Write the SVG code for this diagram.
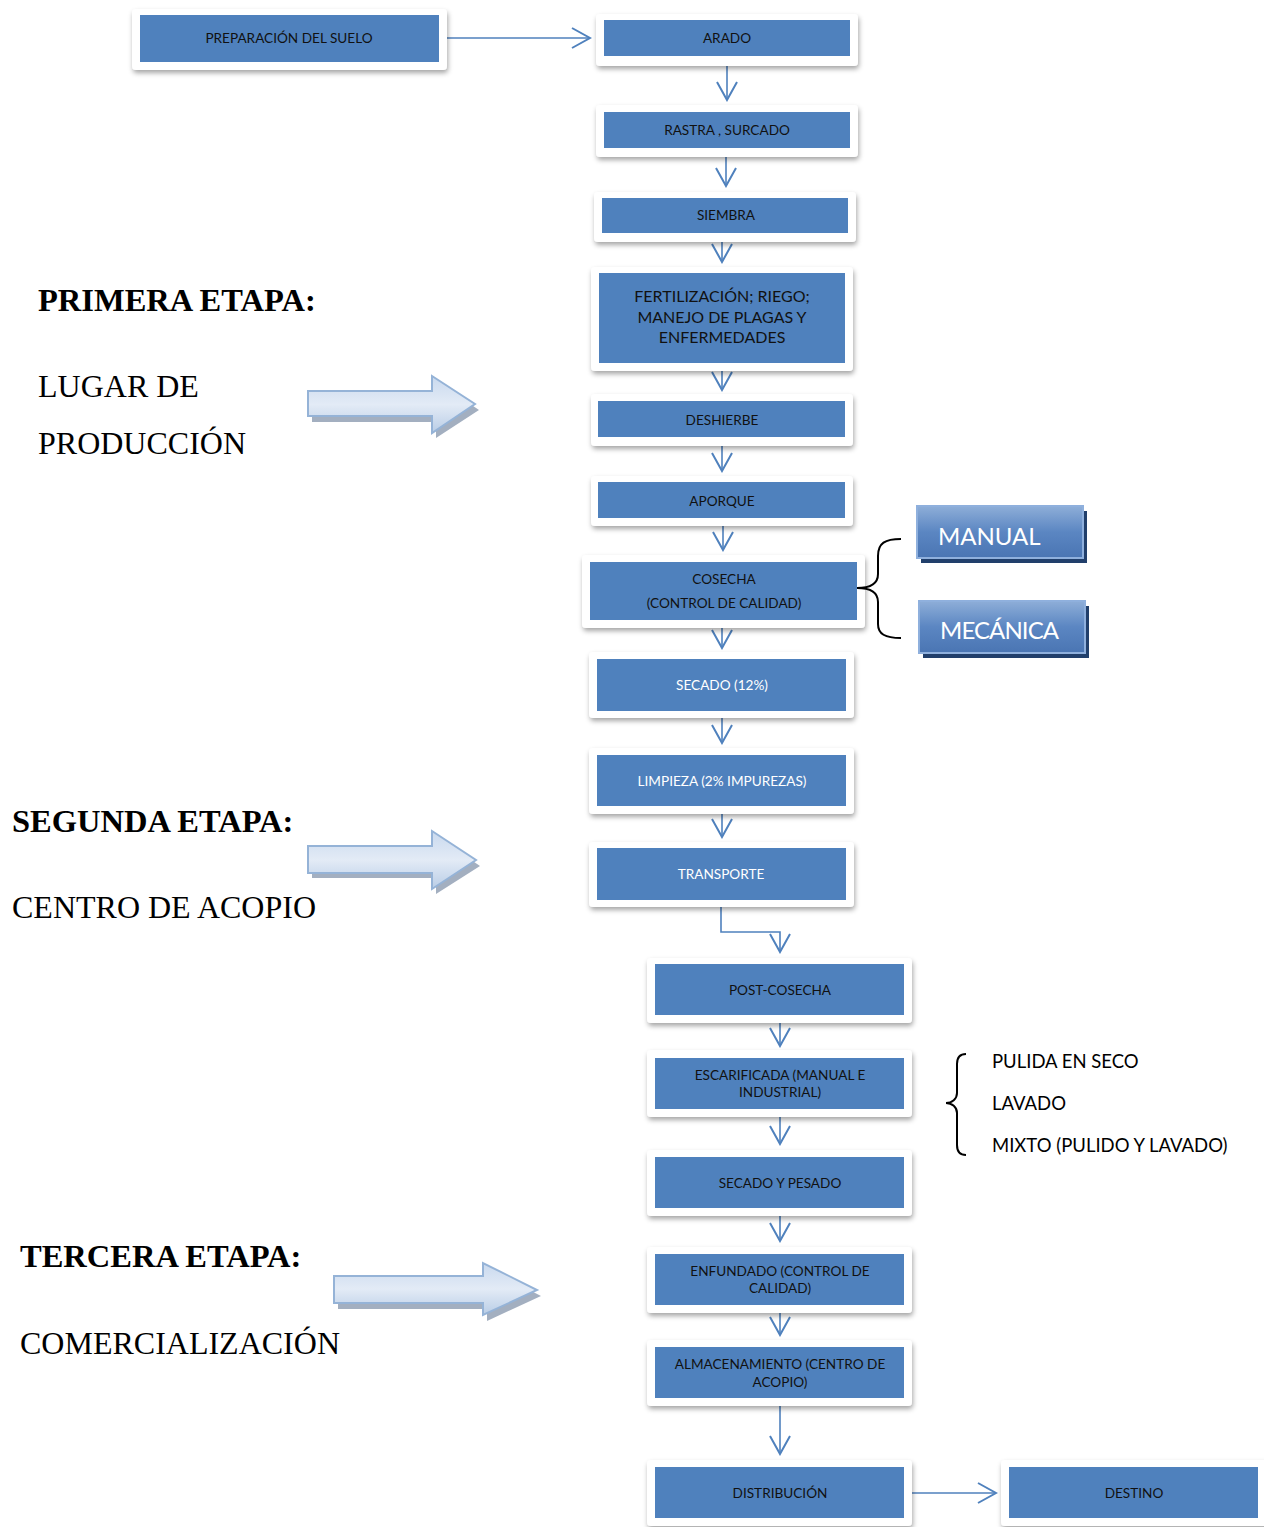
<svg xmlns="http://www.w3.org/2000/svg" width="1264" height="1527" viewBox="0 0 1264 1527">
<style>
.card{fill:#fff;filter:url(#sh)}
.box{fill:#4F81BD}
.t{font-family:Lato,"Noto Sans",sans-serif;font-size:13.6px;fill:#111;text-anchor:middle}
.tw{fill:#fff}
.tb{font-size:16px}
.c{fill:none;stroke:#4F81BD;stroke-width:1.6}
.h{font-family:"Liberation Serif",serif;font-size:32px;fill:#000}
.hb{font-weight:bold;font-size:32.5px}
.btn{font-family:Lato,"Noto Sans",sans-serif;font-size:24px;fill:#fff}
.side{font-family:Lato,"Noto Sans",sans-serif;font-size:18.5px;fill:#000}
.brace{fill:none;stroke:#000;stroke-width:2}
</style>
<defs>
<filter id="sh" x="-10%" y="-20%" width="120%" height="150%">
<feDropShadow dx="1" dy="3" stdDeviation="2.5" flood-color="#000" flood-opacity="0.35"/>
</filter>
<marker id="ah" markerUnits="userSpaceOnUse" markerWidth="22" markerHeight="24" viewBox="0 0 22 24" refX="20" refY="12" orient="auto">
<path d="M2,2 L20,12 L2,22" fill="none" stroke="#4F81BD" stroke-width="2"/>
</marker>
<linearGradient id="fa" x1="0" y1="0" x2="0" y2="1">
<stop offset="0" stop-color="#c9d9ee"/>
<stop offset="0.5" stop-color="#e3ebf6"/>
<stop offset="1" stop-color="#b9cde6"/>
</linearGradient>
<linearGradient id="bt" x1="0" y1="0" x2="0" y2="1">
<stop offset="0" stop-color="#8eaed8"/>
<stop offset="0.5" stop-color="#5b86c2"/>
<stop offset="1" stop-color="#4a75b3"/>
</linearGradient>
</defs>

<g id="connectors">
<path class="c" d="M447,38 H590" marker-end="url(#ah)"/>
<path class="c" d="M727,66 V100" marker-end="url(#ah)"/>
<path class="c" d="M726,157 V186" marker-end="url(#ah)"/>
<path class="c" d="M722,242 V262" marker-end="url(#ah)"/>
<path class="c" d="M722,371 V390" marker-end="url(#ah)"/>
<path class="c" d="M722,446 V471" marker-end="url(#ah)"/>
<path class="c" d="M723,526 V550" marker-end="url(#ah)"/>
<path class="c" d="M722,628 V648" marker-end="url(#ah)"/>
<path class="c" d="M722,718 V743" marker-end="url(#ah)"/>
<path class="c" d="M722,814 V837" marker-end="url(#ah)"/>
<path class="c" d="M721,907 V932 H780 V952" marker-end="url(#ah)"/>
<path class="c" d="M780,1023 V1046" marker-end="url(#ah)"/>
<path class="c" d="M780,1117 V1144" marker-end="url(#ah)"/>
<path class="c" d="M780,1216 V1241" marker-end="url(#ah)"/>
<path class="c" d="M780,1313 V1335" marker-end="url(#ah)"/>
<path class="c" d="M780,1406 V1454" marker-end="url(#ah)"/>
<path class="c" d="M912,1493 H996" marker-end="url(#ah)"/>
</g>

<g id="n-preparacion"><rect class="card" x="132" y="9" width="315" height="61" rx="4"/><rect class="box" x="140" y="15" width="299" height="47"/><text class="t" x="289" y="43">PREPARACIÓN DEL SUELO</text></g>
<g id="n-arado"><rect class="card" x="596" y="14" width="262" height="52" rx="4"/><rect class="box" x="604" y="20" width="246" height="36"/><text class="t" x="727" y="43">ARADO</text></g>
<g id="n-rastra"><rect class="card" x="596" y="105" width="262" height="52" rx="4"/><rect class="box" x="604" y="112" width="246" height="36"/><text class="t" x="727" y="135">RASTRA , SURCADO</text></g>
<g id="n-siembra"><rect class="card" x="594" y="192" width="262" height="50" rx="4"/><rect class="box" x="602" y="198" width="246" height="35"/><text class="t" x="726" y="220">SIEMBRA</text></g>
<g id="n-fertilizacion"><rect class="card" x="591" y="267" width="262" height="104" rx="4"/><rect class="box" x="599" y="273" width="246" height="90"/><text class="t tb" x="722" y="302">FERTILIZACIÓN;  RIEGO;</text><text class="t tb" x="722" y="323">MANEJO DE PLAGAS Y</text><text class="t tb" x="722" y="343">ENFERMEDADES</text></g>
<g id="n-deshierbe"><rect class="card" x="591" y="394" width="262" height="52" rx="4"/><rect class="box" x="598" y="401" width="247" height="36"/><text class="t" x="722" y="425">DESHIERBE</text></g>
<g id="n-aporque"><rect class="card" x="591" y="476" width="262" height="50" rx="4"/><rect class="box" x="598" y="482" width="247" height="36"/><text class="t" x="722" y="506">APORQUE</text></g>
<g id="n-cosecha"><rect class="card" x="582" y="555" width="283" height="73" rx="4"/><rect class="box" x="590" y="562" width="267" height="58"/><text class="t" x="724" y="584">COSECHA</text><text class="t" x="724" y="608">(CONTROL DE CALIDAD)</text></g>
<g id="n-secado"><rect class="card" x="589" y="652" width="265" height="66" rx="4"/><rect class="box" x="597" y="659" width="249" height="52"/><text class="t tw" x="722" y="690">SECADO (12%)</text></g>
<g id="n-limpieza"><rect class="card" x="589" y="748" width="265" height="66" rx="4"/><rect class="box" x="597" y="755" width="249" height="51"/><text class="t tw" x="722" y="786">LIMPIEZA (2% IMPUREZAS)</text></g>
<g id="n-transporte"><rect class="card" x="589" y="842" width="265" height="65" rx="4"/><rect class="box" x="597" y="848" width="249" height="52"/><text class="t tw" x="721" y="879">TRANSPORTE</text></g>
<g id="n-postcosecha"><rect class="card" x="647" y="958" width="265" height="65" rx="4"/><rect class="box" x="655" y="964" width="249" height="51"/><text class="t" x="780" y="995">POST-COSECHA</text></g>
<g id="n-escarificada"><rect class="card" x="647" y="1050" width="265" height="67" rx="4"/><rect class="box" x="655" y="1058" width="249" height="51"/><text class="t" x="780" y="1080">ESCARIFICADA  (MANUAL E</text><text class="t" x="780" y="1097">INDUSTRIAL)</text></g>
<g id="n-secadopesado"><rect class="card" x="647" y="1150" width="265" height="66" rx="4"/><rect class="box" x="655" y="1157" width="249" height="51"/><text class="t" x="780" y="1188">SECADO  Y PESADO</text></g>
<g id="n-enfundado"><rect class="card" x="647" y="1247" width="265" height="66" rx="4"/><rect class="box" x="655" y="1254" width="249" height="51"/><text class="t" x="780" y="1276">ENFUNDADO  (CONTROL DE</text><text class="t" x="780" y="1293">CALIDAD)</text></g>
<g id="n-almacenamiento"><rect class="card" x="647" y="1340" width="265" height="66" rx="4"/><rect class="box" x="655" y="1347" width="249" height="51"/><text class="t" x="780" y="1369">ALMACENAMIENTO  (CENTRO DE</text><text class="t" x="780" y="1387">ACOPIO)</text></g>
<g id="n-distribucion"><rect class="card" x="647" y="1460" width="265" height="66" rx="4"/><rect class="box" x="655" y="1467" width="249" height="51"/><text class="t" x="780" y="1498">DISTRIBUCIÓN</text></g>
<g id="n-destino"><rect class="card" x="1001" y="1460" width="270" height="66" rx="4"/><rect class="box" x="1009" y="1467" width="249" height="51"/><text class="t" x="1134" y="1498">DESTINO</text></g>

<g id="n-manual"><rect x="921" y="511" width="166" height="52" fill="#213f6b"/><rect x="917" y="506" width="166" height="52" fill="url(#bt)" stroke="#8fb0dd" stroke-width="2"/><text class="btn" x="938" y="545">MANUAL</text></g>
<g id="n-mecanica"><rect x="923" y="606" width="166" height="52" fill="#213f6b"/><rect x="919" y="601" width="166" height="52" fill="url(#bt)" stroke="#8fb0dd" stroke-width="2"/><text class="btn" x="940" y="639" textLength="119">MECÁNICA</text></g>

<g id="brace-cosecha"><path class="brace" d="M901,539 C885,539 878,543 878,556 V574 C878,584 870,588 857,588 C870,588 878,592 878,602 V624 C878,634 885,638 901,638"/></g>
<g id="brace-escarificada"><path class="brace" d="M966,1054 C960,1054 957,1057 957,1064 V1093 C957,1099 952,1103 946,1103 C952,1103 957,1107 957,1113 V1145 C957,1152 960,1155 966,1155"/></g>
<g id="opciones"><text class="side" x="992" y="1068">PULIDA EN SECO</text><text class="side" x="992" y="1110">LAVADO</text><text class="side" x="992" y="1152">MIXTO (PULIDO Y LAVADO)</text></g>

<g id="etapa1"><text class="h hb" x="38" y="311">PRIMERA ETAPA:</text><text class="h" x="38" y="397">LUGAR DE</text><text class="h" x="38" y="454">PRODUCCIÓN</text>
<path d="M312,396 H436 V381 L479,410 L436,438 V422 H312 Z" fill="#8c9bb0" opacity="0.8"/>
<path d="M308,391 H432 V376 L475,404 L432,433 V416 H308 Z" fill="url(#fa)" stroke="#95B3D7" stroke-width="2"/></g>
<g id="etapa2"><text class="h hb" x="12" y="832">SEGUNDA ETAPA:</text><text class="h" x="12" y="918">CENTRO DE ACOPIO</text>
<path d="M312,851 H436 V836 L480,866 L436,894 V878 H312 Z" fill="#8c9bb0" opacity="0.8"/>
<path d="M308,846 H432 V831 L476,860 L432,889 V873 H308 Z" fill="url(#fa)" stroke="#95B3D7" stroke-width="2"/></g>
<g id="etapa3"><text class="h hb" x="20" y="1267">TERCERA ETAPA:</text><text class="h" x="20" y="1354">COMERCIALIZACIÓN</text>
<path d="M338,1282 H487 V1268 L541,1296 L487,1321 V1309 H338 Z" fill="#8c9bb0" opacity="0.8"/>
<path d="M334,1276 H483 V1263 L537,1290 L483,1315 V1303 H334 Z" fill="url(#fa)" stroke="#95B3D7" stroke-width="2"/></g>
</svg>
